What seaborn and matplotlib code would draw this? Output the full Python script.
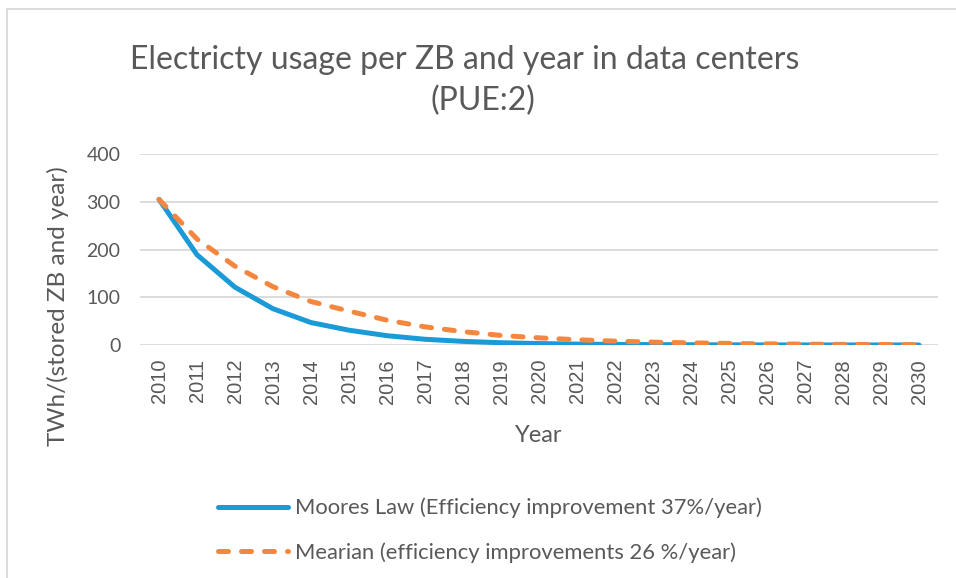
import matplotlib
matplotlib.use("Agg")
import matplotlib.pyplot as plt
import seaborn as sns
from matplotlib.patches import Rectangle

years = [str(y) for y in range(2010, 2031)]
moores = [305, 189, 121, 76, 47, 31, 19.5, 12, 7.6, 4.8, 3.0, 1.9, 1.2, 0.75, 0.48, 0.3, 0.19, 0.12, 0.075, 0.047, 0.03]
mearian = [305, 222, 165, 122, 91, 71, 52, 38, 28, 20, 15, 11, 8.1, 6.0, 4.4, 3.3, 2.4, 1.8, 1.3, 1.0, 0.7]
label_moores = "Moores Law (Efficiency improvement 37%/year)"
label_mearian = "Mearian (efficiency improvements 26 %/year)"

sns.set_theme(style="white")
plt.rcParams['font.family'] = ['Lato', 'DejaVu Sans']
gray = "#595959"

fig = plt.figure(figsize=(9.56, 5.78), dpi=100)
ax = fig.add_axes([140/956, 1-345/578, (938-140)/956, (345-154)/578])

pos = list(range(len(years)))
sns.lineplot(x=pos, y=moores, ax=ax, color="#1a9bd7", lw=3.6, solid_capstyle="round", label=label_moores)
sns.lineplot(x=pos, y=mearian, ax=ax, color="#f4873f", lw=3.6, dash_capstyle="round", label=label_mearian)
ax.lines[1].set_dashes([2.0, 2.6])

ax.set_xlim(-0.5, len(years)-0.5)
ax.set_ylim(0, 400)
ax.set_yticks([0, 100, 200, 300, 400])
ax.set_xticks(pos)
ax.set_xticklabels(years, rotation=90, fontsize=14.5, color=gray, family=['Liberation Sans', 'DejaVu Sans'])
ax.tick_params(axis='y', labelsize=14, colors=gray, length=0, pad=14)
ax.tick_params(axis='x', length=0, pad=10)
ax.grid(axis='y', color="#d9d9d9", lw=1.3)
ax.set_axisbelow(True)
for s in ax.spines.values():
    s.set_visible(False)
ax.set_xlabel("Year", fontsize=17, color=gray)
ax.set_ylabel("TWh/(stored ZB and year)", fontsize=17.5, color=gray)
ax.yaxis.set_label_coords(58/956, 1-306/578, transform=fig.transFigure)
ax.yaxis.label.set_va('center')
ax.xaxis.set_label_coords(539/956, 1-435/578, transform=fig.transFigure)
ax.xaxis.label.set_va('center')

fig.text(465/956, 1-60/578, "Electricty usage per ZB and year in data centers", ha='center', va='center',
         fontsize=23, color=gray)
fig.text(483/956, 1-101/578, "(PUE:2)", ha='center', va='center', fontsize=23, color=gray)

leg = ax.legend(loc='upper left', bbox_to_anchor=(198/956, 1-478/578), bbox_transform=fig.transFigure,
                frameon=False, fontsize=15.8, labelcolor=gray, handlelength=3.2, handletextpad=0.3,
                labelspacing=1.1)

fig.patches.append(Rectangle((7/956, -0.1), 1.1, (1-9/578)+0.1, transform=fig.transFigure,
                             fill=False, edgecolor="#d9d9d9", lw=1.3))
fig.savefig("out.png", dpi=100)
